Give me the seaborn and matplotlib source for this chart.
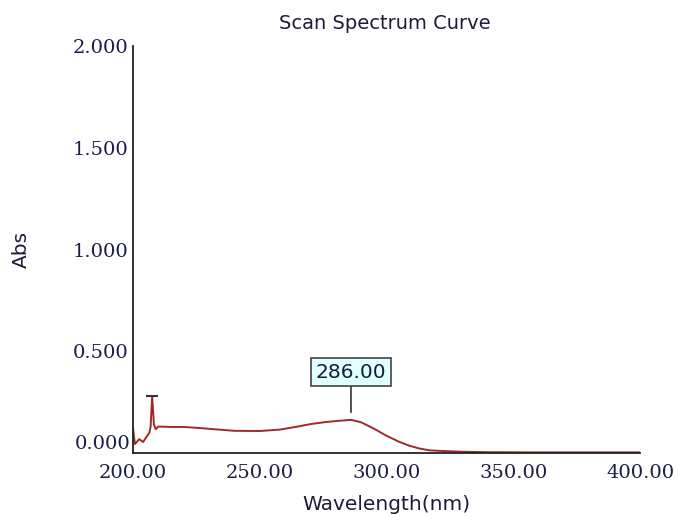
import matplotlib
matplotlib.use("Agg")
import matplotlib.pyplot as plt
import seaborn as sns
import pandas as pd

# Absorbance scan
wavelength = [200, 200.8, 202.5, 204, 206.5, 207.0, 207.6, 208.3, 209, 210,
              215, 220, 225, 232, 240, 250, 258, 265, 270, 276, 281, 286,
              290, 295, 300, 305, 309, 313, 317, 322, 330, 340, 360, 380, 400]
absorbance = [0.127, 0.044, 0.068, 0.054, 0.100, 0.130, 0.280, 0.140, 0.117, 0.130,
              0.128, 0.128, 0.124, 0.117, 0.109, 0.108, 0.115, 0.130, 0.142, 0.152,
              0.158, 0.163, 0.151, 0.120, 0.085, 0.055, 0.036, 0.022, 0.013, 0.010,
              0.006, 0.004, 0.003, 0.003, 0.003]

peak_wl = 286.00
spike_wl = 207.6
spike_abs = 0.280

x_ticks = [200, 250, 300, 350, 400]
y_ticks = [0.0, 0.5, 1.0, 1.5, 2.0]

df = pd.DataFrame({"Wavelength": wavelength, "Abs": absorbance})

sns.set_style("white")
plt.rcParams["font.family"] = ["DejaVu Sans"]

fig = plt.figure(figsize=(6.78, 5.17), dpi=100)
ax = fig.add_axes([0.196, 0.1238, 0.748, 0.787])

line_color = "#a02828"
sns.lineplot(data=df, x="Wavelength", y="Abs", ax=ax, color=line_color,
             linewidth=1.4, sort=False, estimator=None)

# cap on the sharp spike
ax.hlines(spike_abs, spike_wl - 2.4, spike_wl + 2.4, color="#333333", linewidth=1.5)

# peak marker with value box
peak_abs = absorbance[wavelength.index(peak_wl)]
ax.annotate(f"{peak_wl:.2f}", xy=(peak_wl, peak_abs + 0.037),
            xytext=(peak_wl, peak_abs + 0.235), ha="center", va="center",
            fontsize=14.5, family="DejaVu Sans", color="#1a1a3a",
            bbox=dict(boxstyle="square,pad=0.22", facecolor="#e0ffff",
                      edgecolor="#333333", linewidth=1.1),
            arrowprops=dict(arrowstyle="-", color="#333333", linewidth=1.2,
                            shrinkA=0, shrinkB=0))

ax.set_xlim(200, 400)
ax.set_ylim(0, 2)
ax.set_xticks(x_ticks)
ax.set_yticks(y_ticks)
ax.set_xticklabels([f"{v:.2f}" for v in x_ticks])
# zero label is drawn separately, lifted above the x axis
ax.set_yticklabels([""] + [f"{v:.3f}" for v in y_ticks[1:]])

label_color = "#1c1c4a"
tick_family = "DejaVu Serif"
tick_size = 14
for lbl in ax.get_xticklabels() + ax.get_yticklabels():
    lbl.set_family(tick_family)
    lbl.set_fontsize(tick_size)
    lbl.set_color(label_color)

ax.annotate(f"{y_ticks[0]:.3f}", xy=(0, y_ticks[0]),
            xycoords=("axes fraction", "data"),
            xytext=(-2, 6.5), textcoords="offset points", ha="right", va="center",
            fontfamily=tick_family, fontsize=tick_size, color=label_color)

ax.tick_params(axis="y", direction="in", length=12, width=1.3, color="#222222", pad=3)
ax.tick_params(axis="x", direction="in", length=9, width=1.3, color="#222222", pad=8)

sns.despine(ax=ax, top=True, right=True)
for side in ("left", "bottom"):
    ax.spines[side].set_linewidth(1.3)
    ax.spines[side].set_color("#222222")

ax.set_xlabel("Wavelength(nm)", fontsize=14.5, color="#1c1c3a", labelpad=9)
ax.set_ylabel("Abs", fontsize=14.5, color="#1c1c3a", labelpad=30)
fig.text(0.568, 0.955, "Scan Spectrum Curve", ha="center", va="center",
         fontsize=14, color="#1c1c3a")

fig.savefig("out.png", dpi=100)
